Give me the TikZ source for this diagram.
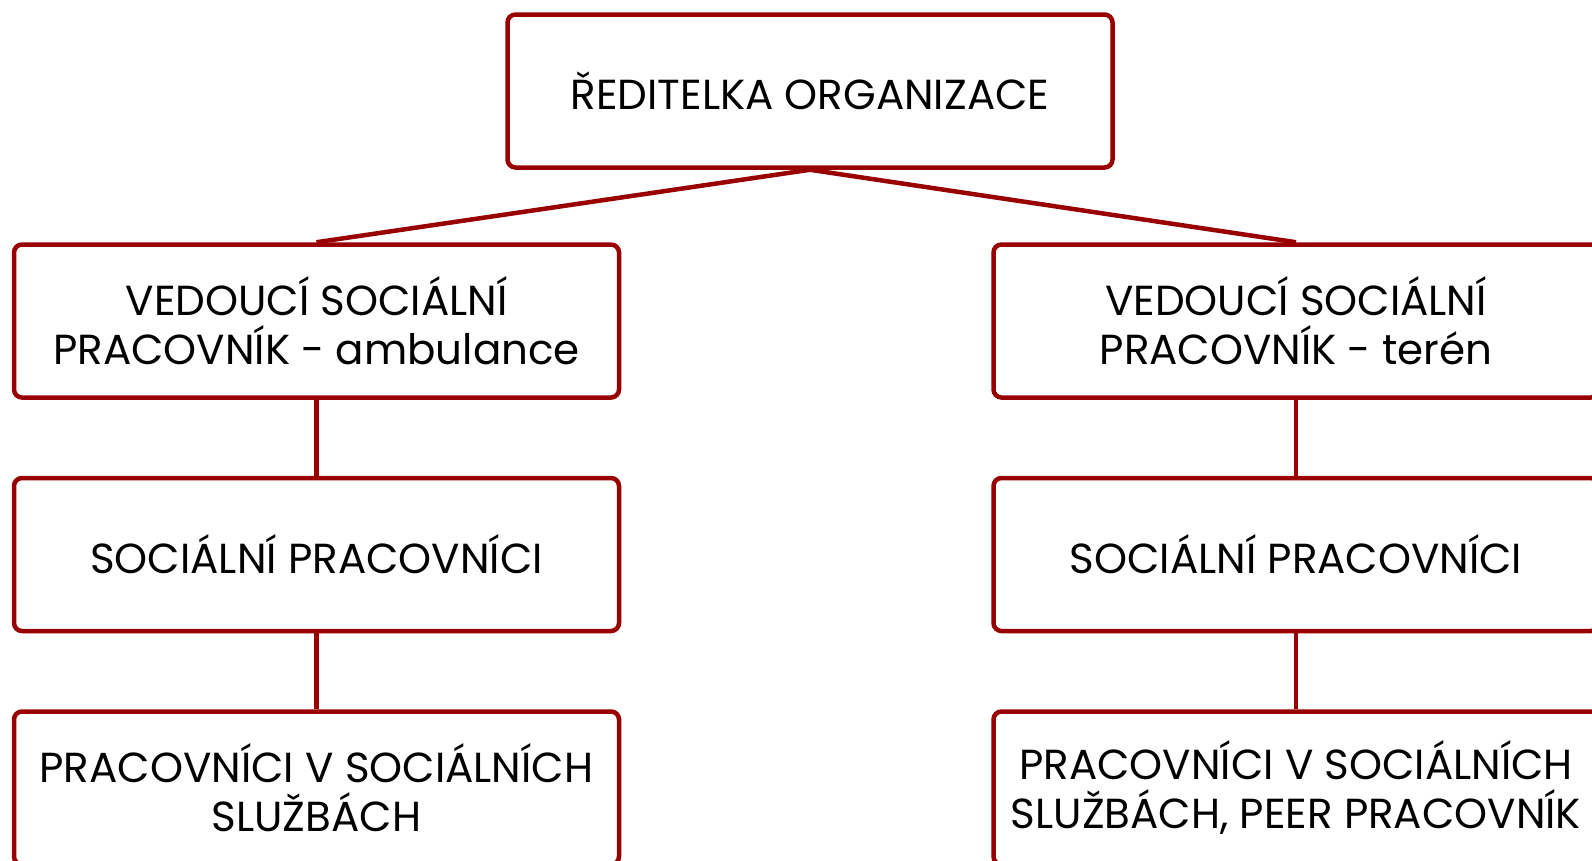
\documentclass[tikz,border=0pt]{standalone}
\usepackage{fontspec}
\setmainfont{Poppins}
\usetikzlibrary{positioning}
\definecolor{darkred}{RGB}{153,0,0}

\begin{document}
\begin{tikzpicture}[x=1pt, y=-1pt, node distance=76pt,
    box/.style={rectangle, draw=darkred, line width=4.5pt, rounded corners=8pt,
        minimum width=605pt, minimum height=153pt, inner sep=0pt, align=center,
        font=\fontsize{42}{49}\selectfont},
    link/.style={draw=darkred, line width=4.5pt}]
    \useasboundingbox (0,0) rectangle (1592,860);
    % Nodes
    \node (boss) [box] at (810,91) {ŘEDITELKA ORGANIZACE};
    \node (headamb) [box] at (316.5,321) {VEDOUCÍ SOCIÁLNÍ\\ PRACOVNÍK - ambulance};
    \node (headter) [box] at (1296,321) {VEDOUCÍ SOCIÁLNÍ\\ PRACOVNÍK - terén};
    \node (socamb) [box, below=of headamb] {SOCIÁLNÍ PRACOVNÍCI};
    \node (socter) [box, below=of headter] {SOCIÁLNÍ PRACOVNÍCI};
    \node (workamb) [box, below=of socamb] {PRACOVNÍCI V SOCIÁLNÍCH\\ SLUŽBÁCH};
    \node (workter) [box, below=of socter] {PRACOVNÍCI V SOCIÁLNÍCH\\ SLUŽBÁCH, PEER PRACOVNÍK};
    % Lines
    \draw[link] (boss.south) -- (headamb.north);
    \draw[link] (boss.south) -- (headter.north);
    \draw[link] (headamb) -- (socamb);
    \draw[link] (socamb) -- (workamb);
    \draw[link] (headter) -- (socter);
    \draw[link] (socter) -- (workter);
\end{tikzpicture}
\end{document}
